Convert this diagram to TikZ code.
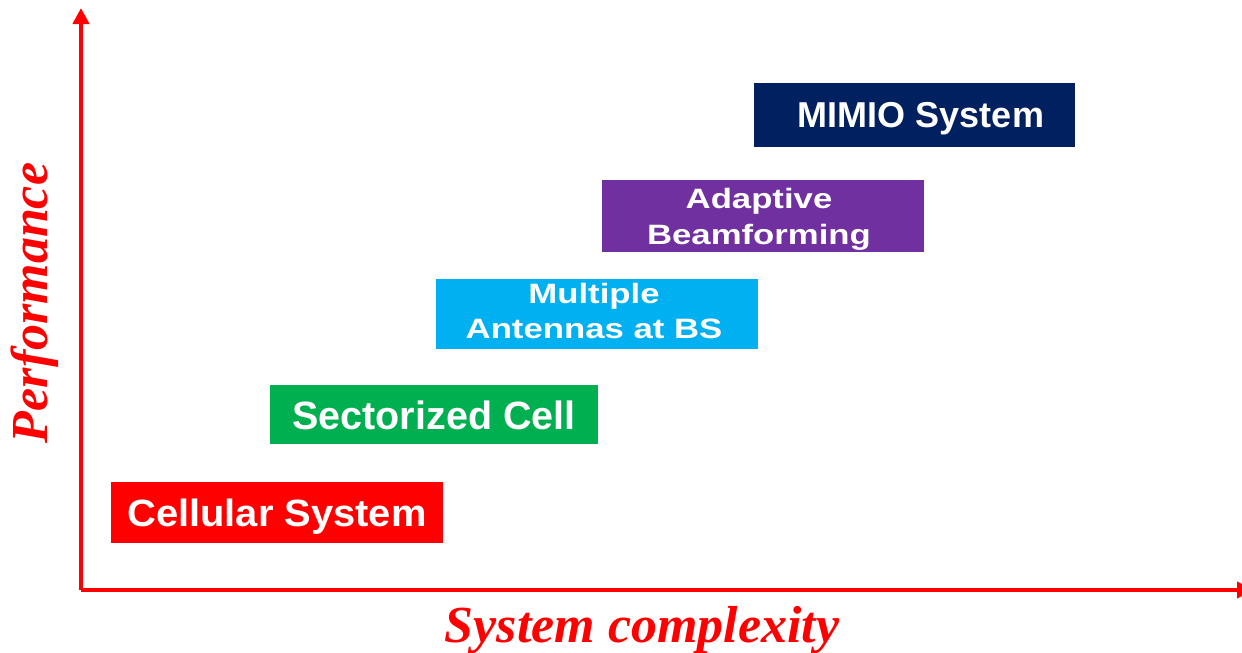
\documentclass[tikz,border=0pt]{standalone}
\usepackage{graphicx}
\usepackage{fontspec}
\setmainfont{Liberation Serif}
\setsansfont{Liberation Sans}
\usepackage{tikz}
\usetikzlibrary{arrows.meta}
\definecolor{cellred}{HTML}{FF0000}
\definecolor{sectgreen}{HTML}{00B050}
\definecolor{multicyan}{HTML}{00B0F0}
\definecolor{adaptpurple}{HTML}{7030A0}
\definecolor{mimonavy}{HTML}{002060}
\tikzstyle{stage}=[text=white, inner sep=0pt, font=\sffamily\bfseries]
\tikzstyle{axislabel}=[text=cellred, font=\rmfamily\bfseries\itshape\fontsize{52}{52}\selectfont]
\tikzstyle{axis}=[draw=cellred, line width=4pt, -{Triangle[width=16pt,length=16pt]}]

\begin{document}
\begin{tikzpicture}[x=1pt,y=-1pt]
\useasboundingbox (0,0) rectangle (1242,653);
\coordinate (org) at (81,590);
\coordinate (ytip) at (81,8);
\coordinate (xtip) at (1253,590);
\draw[axis] (org) -- (ytip);
\draw[axis] (org) -- (xtip);
\node[axislabel, rotate=90, anchor=base] (perf) at (47,303) {Performance};
\node[axislabel, anchor=base] (cplx) at (642,642) {System complexity};
% stages
\node[stage, fill=cellred, minimum width=332pt, minimum height=61pt,
  text height=27pt, text depth=0pt] (cell) at (277,512.5)
  {\fontsize{38}{38}\selectfont\scalebox{1.05}[1]{Cellular System}};
\node[stage, fill=sectgreen, minimum width=328pt, minimum height=59pt,
  text height=29pt, text depth=0pt] (sect) at (434,414.5)
  {\fontsize{39.5}{40}\selectfont Sectorized Cell};
\node[stage, fill=multicyan, minimum width=322pt, minimum height=68pt] (multi) at (597,314)
  {\fontsize{28}{35}\selectfont\hspace*{-6pt}\scalebox{1.24}[1]{\begin{tabular}{@{}c@{}}Multiple\\Antennas at BS\end{tabular}}};
\node[stage, fill=adaptpurple, minimum width=322pt, minimum height=69pt] (adapt) at (763,215.5)
  {\fontsize{28}{36}\selectfont\hspace*{-8pt}\raisebox{-4pt}[\height][\depth]{\scalebox{1.24}[1]{\begin{tabular}{@{}c@{}}Adaptive\\Beamforming\end{tabular}}}};
\node[stage, fill=mimonavy, minimum width=321pt, minimum height=64pt,
  text height=25pt, text depth=0pt] (mimo) at (914.5,115)
  {\fontsize{36}{36}\selectfont\hspace*{13pt}MIMIO System};
\end{tikzpicture}
\end{document}
